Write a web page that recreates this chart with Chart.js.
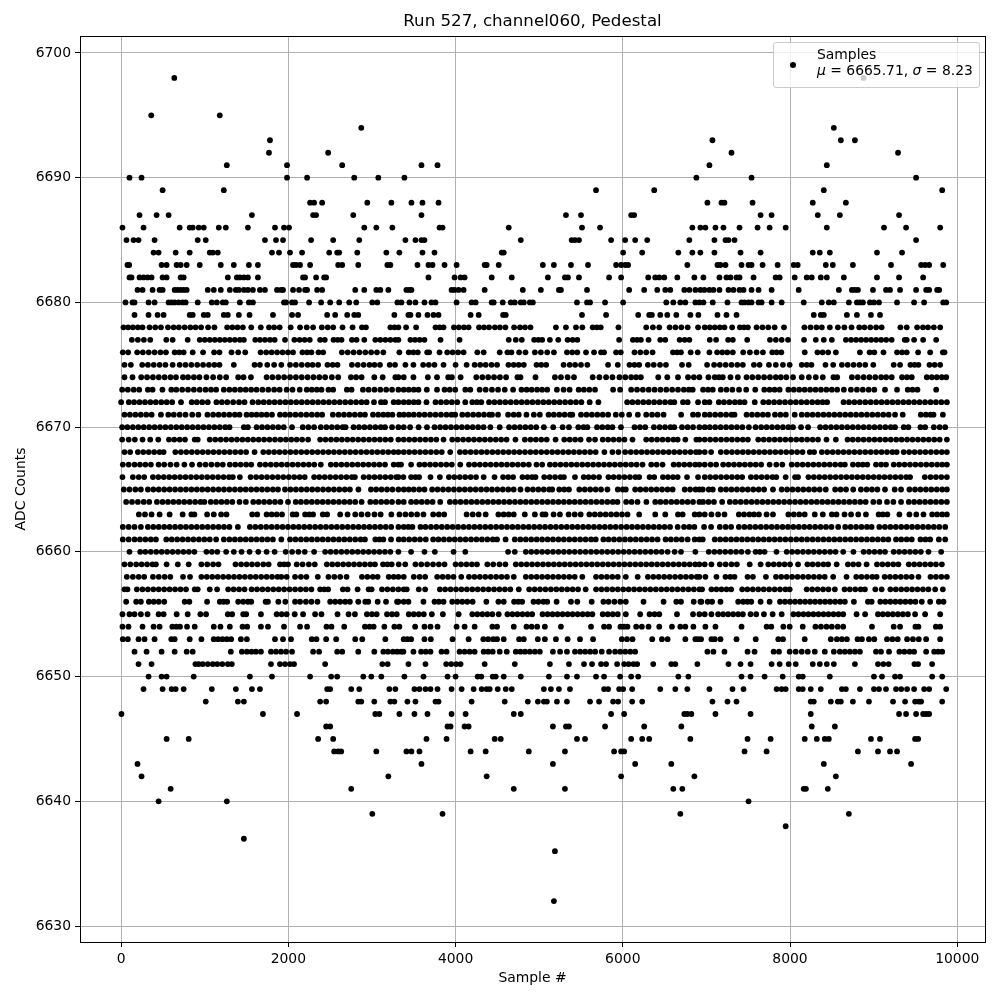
<!DOCTYPE html>
<html>
<head>
<meta charset="utf-8">
<title>Run 527, channel060, Pedestal</title>
<script src="https://cdn.jsdelivr.net/npm/chart.js@4"></script>
<style>
  body { margin: 0; background: #fff; font-family: "DejaVu Sans", sans-serif; }
  #wrap { position: relative; width: 1000px; height: 1000px; }
  #legendBox {
    position: absolute; left: 773px; top: 42px; width: 205px; height: 44px;
    background: rgba(255, 255, 255, 0.8); border: 1px solid #ccc; border-radius: 3px;
    font-size: 13.9px; line-height: 15.5px; color: #000;
  }
  #legendDot { position: absolute; left: 16px; top: 19px; width: 6px; height: 6px; border-radius: 50%; background: #000; }
  #legendText { position: absolute; left: 43px; top: 4px; white-space: nowrap; }
</style>
</head>
<body>
<div id="wrap">
  <canvas id="pedestalChart" width="1000" height="1000"></canvas>
  <div id="legendBox">
    <span id="legendDot"></span>
    <div id="legendText">Samples<br><i>μ</i> = 6665.71, <i>σ</i> = 8.23</div>
  </div>
</div>
<script>
'use strict';

const chartTitle = 'Run 527, channel060, Pedestal';
const xLabel = 'Sample #';
const yLabel = 'ADC Counts';
const xTicks = [0, 2000, 4000, 6000, 8000, 10000];
const yTicks = [6630, 6640, 6650, 6660, 6670, 6680, 6690, 6700];

// sample numbers, one list per ADC code
const s6698 = [636, 8880];
const s6695 = [360, 1180];
const s6694 = [2872, 8524];
const s6693 = [1780, 7072, 8608, 8776];
const s6692 = [1768, 2476, 7300, 9292];
const s6691 = [1264, 1984, 2644, 3592, 3784, 7036, 8440];
const s6690 = [100, 244, 1984, 2224, 2788, 3076, 3388, 6880, 7540, 9508];
const s6689 = [496, 1228, 5680, 6376, 8404, 9820];
const s6688 = [2260, 2308, 2404, 2944, 3232, 3472, 3604, 3796, 7012, 7180, 7216, 7552, 8272, 8668];
const s6687 = [220, 424, 568, 1564, 2296, 2332, 2776, 3592, 5320, 5500, 6100, 6136, 7648, 7780, 8332, 8596, 9304];
const s6686 = [16, 268, 700, 820, 856, 928, 988, 1168, 1252, 1516, 1840, 1948, 2008, 2908, 3052, 3244, 3808, 3844, 4636, 5512, 5728, 6832, 6928, 6988, 7108, 7204, 7396, 7612, 7756, 7948, 8440, 9124, 9388, 9796];
const s6685 = [64, 148, 208, 400, 916, 1012, 1720, 1852, 1936, 2272, 2536, 2848, 3400, 3520, 3592, 3628, 4780, 5388, 5428, 5476, 5860, 6028, 6148, 6292, 6796, 7096, 7228, 7264, 7336, 9508];
const s6684 = [388, 448, 652, 820, 1060, 1096, 1156, 1804, 1888, 2020, 2164, 2488, 2584, 2608, 2824, 3172, 3328, 3604, 3748, 4552, 4576, 6004, 6232, 6664, 6832, 6928, 7096, 7408, 7648, 8272, 8356, 8476, 9040, 9340];
const s6683 = [76, 96, 484, 544, 664, 712, 784, 940, 1192, 1348, 1528, 1636, 2056, 2092, 2140, 2260, 2596, 2644, 2836, 3184, 3220, 3544, 3676, 3724, 3868, 4012, 4348, 4372, 4516, 5044, 5176, 5380, 5584, 5920, 5980, 6028, 6064, 6772, 7132, 7168, 7228, 7420, 7504, 7540, 7672, 7852, 8044, 8092, 8428, 8512, 8752, 9208, 9568, 9616, 9664, 9832];
const s6682 = [100, 124, 220, 268, 316, 364, 496, 544, 712, 748, 1276, 1384, 1420, 1468, 1516, 1636, 2176, 2200, 2332, 2428, 2452, 3676, 3988, 4060, 4108, 4432, 4672, 5104, 5308, 5344, 5476, 5836, 5980, 6304, 6388, 6436, 6496, 6652, 6856, 6964, 7156, 7240, 7288, 7360, 7396, 7564, 7828, 7876, 8056, 8200, 8260, 8368, 8440, 8644, 9040, 9304, 9592];
const s6681 = [196, 256, 376, 460, 496, 640, 676, 712, 748, 784, 1036, 1108, 1192, 1300, 1372, 1408, 1468, 1516, 1576, 1660, 1720, 1864, 1912, 1936, 2056, 2128, 2200, 2224, 2344, 2404, 2800, 2908, 3052, 3100, 3196, 3412, 3448, 3472, 3952, 3988, 4036, 4096, 4348, 4804, 5020, 5236, 5260, 5572, 6076, 6256, 6412, 6508, 6568, 6736, 6796, 6868, 6928, 6976, 7036, 7084, 7156, 7264, 7324, 7396, 7444, 7540, 7624, 7780, 8104, 8584, 8740, 8776, 8812, 8992, 9148, 9196, 9316, 9508, 9628, 9664, 9760, 9784];
const s6680 = [52, 136, 160, 328, 400, 568, 604, 640, 688, 736, 772, 916, 1084, 1144, 1216, 1252, 1420, 1528, 1576, 1948, 1972, 2044, 2080, 2248, 2392, 2500, 2608, 2728, 2812, 3004, 3064, 3304, 3352, 3448, 3520, 3628, 3712, 3760, 4012, 4192, 4240, 4432, 4456, 4564, 4660, 4708, 4780, 4816, 4888, 4924, 5452, 5572, 5608, 5788, 6004, 6520, 6604, 6688, 6748, 6868, 6916, 6964, 7076, 7252, 7420, 7456, 7504, 7540, 7624, 7660, 7780, 7900, 8164, 8380, 8464, 8524, 8704, 8800, 8836, 8872, 8956, 9004, 9064, 9280, 9484, 9604, 9832, 9868];
const s6679 = [160, 328, 436, 508, 820, 856, 988, 1036, 1228, 1276, 1408, 1536, 1816, 2044, 2116, 2464, 2560, 2704, 2788, 2836, 3268, 3436, 3460, 3556, 3664, 3736, 3796, 4180, 4276, 4568, 4600, 5512, 5800, 6184, 6316, 6348, 6448, 6532, 6640, 6808, 6904, 7132, 7240, 7360, 8284, 8368, 8404, 8680, 8800, 8968, 9076];
const s6678 = [28, 84, 140, 200, 256, 340, 408, 476, 560, 628, 690, 760, 828, 890, 956, 1040, 1116, 1268, 1330, 1392, 1456, 1556, 1670, 1768, 1830, 1896, 2028, 2140, 2220, 2296, 2400, 2470, 2536, 2648, 2768, 2880, 2928, 3220, 3270, 3316, 3408, 3528, 3760, 3810, 3856, 3980, 4040, 4100, 4156, 4280, 4340, 4400, 4470, 4530, 4596, 4700, 4770, 4830, 4896, 5200, 5320, 5440, 5516, 5640, 5690, 5736, 5948, 6280, 6360, 6436, 6560, 6630, 6700, 6776, 6900, 6980, 7040, 7100, 7160, 7216, 7308, 7400, 7450, 7496, 7600, 7670, 7740, 7816, 7928, 8172, 8245, 8316, 8380, 8476, 8572, 8650, 8736, 8828, 8890, 8960, 9030, 9096, 9320, 9396, 9520, 9590, 9650, 9720, 9796];
const s6677 = [128, 200, 272, 348, 540, 616, 796, 940, 1000, 1060, 1120, 1180, 1240, 1300, 1360, 1420, 1468, 1604, 1660, 1720, 1780, 1836, 1960, 2072, 2135, 2195, 2256, 2380, 2436, 2540, 2590, 2636, 2760, 2816, 2908, 3040, 3100, 3160, 3220, 3280, 3316, 3460, 3515, 3570, 3628, 3820, 4048, 4636, 4720, 4792, 4940, 4990, 5036, 5128, 5228, 5340, 5400, 5456, 5956, 6120, 6170, 6216, 6308, 6448, 6508, 6680, 6740, 6796, 7040, 7116, 7260, 7316, 7488, 7760, 7830, 7900, 7976, 8168, 8308, 8404, 8500, 8668, 8730, 8790, 8850, 8910, 8970, 9030, 9090, 9150, 9216, 9372, 9396, 9484, 9592, 9748];
const s6676 = [20, 84, 192, 260, 330, 400, 470, 536, 640, 695, 748, 856, 980, 1112, 1176, 1320, 1400, 1484, 1668, 1735, 1800, 1865, 1930, 1995, 2056, 2168, 2225, 2276, 2360, 2416, 2640, 2710, 2780, 2850, 2920, 2990, 3060, 3136, 3328, 3440, 3495, 3548, 3660, 3684, 3808, 3900, 3965, 4030, 4096, 4260, 4336, 4528, 4620, 4668, 4760, 4836, 4948, 5020, 5096, 5176, 5332, 5395, 5456, 5560, 5656, 5740, 5776, 5920, 5976, 6140, 6210, 6280, 6356, 6600, 6650, 6696, 6812, 6896, 7036, 7128, 7190, 7250, 7316, 7440, 7520, 7600, 7676, 7788, 7840, 7896, 8176, 8328, 8390, 8456, 8548, 8836, 8952, 9008, 9118, 9280, 9340, 9396, 9532, 9676, 9828, 9848];
const s6675 = [40, 116, 252, 320, 390, 460, 530, 616, 700, 770, 840, 910, 980, 1050, 1115, 1176, 1348, 1596, 1660, 1748, 1830, 1916, 2020, 2090, 2160, 2230, 2290, 2356, 2468, 2530, 2588, 2760, 2830, 2900, 2970, 3030, 3096, 3212, 3276, 3400, 3496, 3612, 3680, 3748, 3856, 4000, 4132, 4228, 4295, 4360, 4430, 4496, 4632, 4695, 4755, 4816, 4968, 5025, 5084, 5292, 5365, 5430, 5500, 5576, 5824, 5940, 6080, 6140, 6196, 6300, 6370, 6445, 6516, 6708, 6788, 7008, 7092, 7160, 7230, 7300, 7370, 7436, 7568, 7636, 7748, 7830, 7915, 7996, 8140, 8200, 8256, 8424, 8516, 8620, 8690, 8760, 8830, 8900, 8996, 9240, 9316, 9440, 9490, 9536, 9668, 9730, 9796];
const s6674 = [40, 136, 240, 310, 380, 450, 520, 590, 656, 740, 800, 870, 936, 1020, 1100, 1180, 1256, 1400, 1464, 1552, 1740, 1810, 1880, 1950, 2020, 2090, 2160, 2230, 2300, 2370, 2440, 2520, 2596, 2748, 2810, 2876, 3028, 3128, 3280, 3316, 3380, 3496, 3668, 3778, 3912, 3956, 4060, 4248, 4320, 4390, 4460, 4530, 4604, 4740, 4776, 4956, 5188, 5260, 5340, 5416, 5640, 5720, 5800, 5876, 5960, 6030, 6100, 6160, 6216, 6424, 6532, 6660, 6780, 6850, 6916, 7024, 7100, 7150, 7196, 7288, 7376, 7480, 7550, 7620, 7690, 7760, 7830, 7890, 7956, 8036, 8140, 8225, 8308, 8392, 8520, 8564, 8740, 8810, 8880, 8950, 9020, 9090, 9150, 9216, 9340, 9400, 9456, 9636, 9695, 9755, 9815, 9868];
const s6673 = [12, 80, 150, 216, 320, 376, 494, 600, 660, 730, 800, 870, 940, 1010, 1075, 1136, 1228, 1295, 1360, 1425, 1490, 1555, 1620, 1690, 1760, 1830, 1896, 1980, 2050, 2136, 2220, 2280, 2340, 2396, 2480, 2536, 2700, 2756, 2892, 2960, 3030, 3100, 3170, 3240, 3316, 3380, 3440, 3500, 3556, 3656, 3778, 3868, 3930, 3996, 4116, 4176, 4288, 4360, 4435, 4508, 4588, 4688, 4788, 4850, 4910, 4975, 5035, 5096, 5212, 5292, 5364, 5472, 5535, 5600, 5668, 5884, 5968, 6100, 6170, 6240, 6310, 6380, 6450, 6520, 6590, 6660, 6730, 6790, 6836, 6960, 7020, 7076, 7172, 7240, 7310, 7390, 7476, 7584, 7692, 7755, 7815, 7876, 7980, 8045, 8110, 8175, 8240, 8305, 8370, 8435, 8500, 8564, 8644, 8728, 8800, 8870, 8940, 9008, 9136, 9280, 9408, 9465, 9524, 9748];
const s6672 = [0, 92, 155, 220, 285, 350, 415, 480, 545, 610, 716, 844, 905, 970, 1036, 1140, 1205, 1270, 1340, 1410, 1476, 1572, 1640, 1705, 1770, 1835, 1900, 1965, 2030, 2095, 2160, 2225, 2290, 2355, 2420, 2485, 2550, 2615, 2680, 2745, 2810, 2875, 2936, 3024, 3108, 3156, 3260, 3316, 3380, 3440, 3500, 3556, 3652, 3760, 3825, 3890, 3955, 4020, 4116, 4200, 4255, 4308, 4400, 4465, 4530, 4595, 4660, 4725, 4790, 4855, 4920, 4985, 5050, 5115, 5180, 5245, 5310, 5375, 5440, 5505, 5604, 5708, 6052, 6115, 6180, 6245, 6310, 6375, 6440, 6505, 6570, 6616, 6720, 6776, 6900, 6980, 7036, 7148, 7210, 7275, 7340, 7400, 7456, 7578, 7680, 7745, 7810, 7875, 7940, 8005, 8070, 8135, 8200, 8265, 8330, 8390, 8444, 8640, 8705, 8770, 8835, 8900, 8965, 9030, 9095, 9160, 9225, 9290, 9355, 9420, 9485, 9550, 9615, 9680, 9745, 9810, 9876];
const s6671 = [40, 105, 170, 235, 300, 365, 476, 564, 630, 700, 770, 850, 924, 1032, 1100, 1165, 1230, 1295, 1360, 1416, 1500, 1560, 1620, 1680, 1740, 1804, 1900, 1960, 2020, 2085, 2150, 2215, 2280, 2345, 2404, 2532, 2600, 2665, 2730, 2795, 2860, 2916, 3012, 3075, 3135, 3190, 3244, 3328, 3380, 3440, 3500, 3565, 3630, 3695, 3760, 3825, 3890, 3950, 3996, 4080, 4145, 4210, 4275, 4340, 4405, 4436, 4508, 4628, 4695, 4756, 4848, 4936, 5008, 5112, 5175, 5240, 5305, 5370, 5396, 5500, 5565, 5630, 5695, 5760, 5825, 5916, 5988, 6076, 6180, 6280, 6350, 6416, 6488, 6698, 6840, 6900, 6980, 7040, 7105, 7170, 7235, 7300, 7336, 7480, 7545, 7610, 7675, 7736, 7820, 7885, 7950, 8056, 8140, 8205, 8270, 8335, 8400, 8465, 8530, 8595, 8660, 8725, 8790, 8855, 8920, 8985, 9050, 9115, 9180, 9256, 9348, 9564, 9625, 9680, 9716, 9828];
const s6670 = [12, 75, 140, 205, 270, 335, 400, 465, 530, 595, 660, 725, 790, 855, 920, 985, 1050, 1115, 1180, 1245, 1296, 1468, 1516, 1620, 1685, 1750, 1815, 1880, 1945, 2044, 2172, 2240, 2308, 2388, 2455, 2520, 2585, 2650, 2684, 2780, 2845, 2910, 2975, 3040, 3105, 3156, 3240, 3316, 3380, 3456, 3558, 3658, 3748, 3815, 3880, 3945, 4010, 4075, 4140, 4205, 4270, 4335, 4416, 4528, 4640, 4705, 4770, 4835, 4900, 4965, 5056, 5168, 5280, 5356, 5468, 5530, 5576, 5692, 5755, 5820, 5876, 5978, 6140, 6205, 6268, 6372, 6440, 6505, 6570, 6616, 6708, 6775, 6840, 6916, 6980, 7040, 7105, 7170, 7235, 7300, 7365, 7430, 7508, 7588, 7655, 7720, 7785, 7850, 7915, 7980, 8036, 8132, 8216, 8360, 8425, 8490, 8555, 8620, 8685, 8750, 8815, 8880, 8945, 9010, 9075, 9140, 9205, 9256, 9360, 9416, 9560, 9616, 9720, 9790, 9856];
const s6669 = [12, 90, 164, 256, 348, 444, 572, 635, 700, 764, 880, 916, 1060, 1125, 1190, 1255, 1320, 1385, 1450, 1515, 1580, 1645, 1710, 1775, 1840, 1905, 1970, 2035, 2100, 2165, 2236, 2380, 2445, 2510, 2575, 2640, 2705, 2770, 2835, 2900, 2965, 3030, 3095, 3160, 3225, 3316, 3380, 3445, 3510, 3575, 3640, 3705, 3770, 3856, 3960, 4025, 4090, 4155, 4220, 4285, 4350, 4415, 4480, 4545, 4610, 4716, 4828, 4895, 4960, 5025, 5090, 5196, 5300, 5365, 5430, 5495, 5596, 5668, 5760, 5825, 5890, 5955, 6020, 6116, 6280, 6345, 6410, 6475, 6540, 6605, 6656, 6748, 6880, 6916, 6980, 7045, 7110, 7175, 7240, 7305, 7370, 7435, 7496, 7620, 7685, 7750, 7815, 7880, 7945, 8010, 8075, 8140, 8205, 8270, 8335, 8436, 8548, 8688, 8750, 8815, 8880, 8945, 9010, 9075, 9140, 9205, 9270, 9335, 9400, 9465, 9530, 9595, 9660, 9725, 9790, 9876];
const s6668 = [40, 108, 200, 265, 330, 395, 460, 508, 648, 715, 780, 845, 910, 975, 1040, 1105, 1170, 1235, 1300, 1365, 1430, 1495, 1596, 1700, 1765, 1830, 1895, 1960, 2025, 2090, 2155, 2220, 2285, 2350, 2415, 2480, 2545, 2610, 2675, 2740, 2805, 2870, 2935, 3000, 3065, 3130, 3195, 3260, 3316, 3380, 3445, 3510, 3575, 3640, 3705, 3770, 3835, 3936, 4052, 4115, 4180, 4245, 4310, 4375, 4440, 4505, 4570, 4635, 4700, 4765, 4830, 4895, 4960, 5025, 5090, 5155, 5220, 5285, 5350, 5415, 5480, 5545, 5610, 5676, 5780, 5876, 5948, 6028, 6095, 6160, 6225, 6290, 6355, 6420, 6485, 6550, 6615, 6680, 6745, 6810, 6875, 6916, 6980, 7056, 7172, 7240, 7305, 7370, 7435, 7500, 7565, 7630, 7695, 7760, 7825, 7890, 7955, 8020, 8085, 8150, 8236, 8288, 8380, 8445, 8510, 8575, 8640, 8705, 8770, 8835, 8900, 8965, 9030, 9095, 9160, 9225, 9276, 9360, 9425, 9490, 9555, 9620, 9685, 9750, 9815, 9876];
const s6667 = [20, 90, 160, 225, 290, 356, 448, 515, 590, 664, 756, 848, 940, 1010, 1080, 1150, 1216, 1300, 1365, 1430, 1495, 1556, 1660, 1725, 1790, 1855, 1920, 1985, 2050, 2115, 2180, 2245, 2310, 2388, 2508, 2570, 2635, 2700, 2765, 2830, 2895, 2960, 3025, 3090, 3156, 3260, 3316, 3348, 3468, 3568, 3630, 3695, 3760, 3825, 3890, 3955, 4056, 4160, 4225, 4290, 4355, 4420, 4485, 4550, 4615, 4680, 4745, 4810, 4876, 4968, 5036, 5128, 5190, 5255, 5320, 5385, 5450, 5515, 5580, 5645, 5710, 5775, 5840, 5905, 5970, 6035, 6100, 6165, 6236, 6340, 6405, 6476, 6608, 6670, 6735, 6800, 6865, 6916, 6980, 7050, 7116, 7200, 7265, 7330, 7395, 7460, 7525, 7590, 7655, 7756, 7836, 7908, 8020, 8085, 8150, 8215, 8280, 8345, 8410, 8475, 8540, 8605, 8656, 8752, 8815, 8870, 8924, 9028, 9090, 9148, 9240, 9305, 9370, 9435, 9500, 9565, 9630, 9695, 9760, 9820, 9876];
const s6666 = [16, 140, 210, 276, 380, 445, 510, 575, 640, 705, 770, 835, 900, 965, 1030, 1095, 1160, 1225, 1290, 1336, 1420, 1548, 1615, 1680, 1745, 1810, 1875, 1940, 2005, 2070, 2135, 2196, 2308, 2370, 2435, 2500, 2565, 2630, 2695, 2760, 2796, 2900, 2965, 3030, 3095, 3160, 3225, 3290, 3316, 3376, 3468, 3520, 3564, 3700, 3812, 3920, 3985, 4050, 4115, 4180, 4245, 4336, 4466, 4568, 4630, 4688, 4800, 4860, 4915, 4956, 5060, 5125, 5190, 5255, 5296, 5428, 5532, 5590, 5650, 5716, 5828, 5890, 5955, 6020, 6085, 6150, 6196, 6320, 6376, 6480, 6540, 6600, 6656, 6768, 6900, 6980, 7045, 7110, 7175, 7240, 7305, 7370, 7428, 7532, 7595, 7660, 7725, 7790, 7836, 7948, 8060, 8096, 8220, 8285, 8350, 8415, 8480, 8545, 8610, 8675, 8740, 8805, 8870, 8935, 9000, 9065, 9130, 9195, 9260, 9325, 9390, 9436, 9612, 9680, 9745, 9810, 9876];
const s6665 = [32, 100, 170, 236, 320, 385, 450, 515, 580, 645, 710, 775, 840, 905, 970, 1035, 1100, 1165, 1230, 1295, 1360, 1425, 1490, 1555, 1620, 1685, 1750, 1815, 1876, 1960, 2025, 2090, 2155, 2220, 2285, 2350, 2415, 2480, 2545, 2610, 2675, 2736, 2838, 2988, 3050, 3115, 3180, 3245, 3316, 3380, 3440, 3500, 3565, 3628, 3720, 3785, 3850, 3915, 3980, 4045, 4110, 4175, 4240, 4305, 4370, 4435, 4500, 4565, 4630, 4695, 4776, 4860, 4925, 4990, 5055, 5120, 5156, 5240, 5300, 5356, 5480, 5545, 5610, 5675, 5740, 5816, 5940, 6000, 6036, 6148, 6210, 6275, 6340, 6405, 6470, 6535, 6596, 6740, 6805, 6870, 6916, 6956, 7028, 7076, 7172, 7235, 7300, 7365, 7430, 7495, 7560, 7625, 7690, 7796, 7900, 7965, 8030, 8095, 8160, 8225, 8290, 8355, 8428, 8540, 8605, 8670, 8756, 8848, 8915, 8980, 9045, 9136, 9252, 9328, 9428, 9495, 9560, 9625, 9690, 9755, 9820, 9876];
const s6664 = [60, 130, 200, 270, 336, 428, 495, 560, 625, 690, 755, 820, 885, 950, 996, 1072, 1135, 1200, 1265, 1330, 1416, 1492, 1580, 1645, 1710, 1775, 1840, 1905, 1996, 2088, 2150, 2215, 2280, 2345, 2410, 2475, 2540, 2605, 2670, 2735, 2800, 2876, 2980, 3045, 3110, 3175, 3240, 3316, 3380, 3468, 3530, 3595, 3660, 3725, 3816, 3932, 3995, 4060, 4125, 4190, 4255, 4320, 4385, 4450, 4515, 4580, 4645, 4710, 4775, 4840, 4905, 4970, 5035, 5100, 5165, 5230, 5295, 5360, 5425, 5490, 5555, 5620, 5685, 5750, 5815, 5880, 5936, 6040, 6105, 6176, 6282, 6388, 6450, 6515, 6580, 6645, 6710, 6775, 6840, 6916, 6960, 7025, 7090, 7188, 7280, 7345, 7410, 7475, 7540, 7605, 7670, 7735, 7800, 7865, 7930, 7995, 8060, 8125, 8190, 8255, 8320, 8385, 8450, 8515, 8580, 8645, 8710, 8775, 8840, 8905, 8996, 9068, 9160, 9236, 9328, 9420, 9485, 9550, 9615, 9680, 9745, 9810, 9876];
const s6663 = [212, 285, 364, 460, 580, 736, 840, 876, 1028, 1108, 1196, 1260, 1568, 1628, 1740, 1800, 1860, 1924, 2052, 2096, 2200, 2250, 2296, 2412, 2464, 2620, 2708, 2800, 2875, 2950, 3030, 3104, 3232, 3328, 3400, 3470, 3540, 3616, 3732, 3800, 3864, 4132, 4205, 4276, 4360, 4512, 4575, 4635, 4696, 4828, 4948, 5040, 5076, 5172, 5248, 5352, 5425, 5496, 5600, 5665, 5730, 5795, 5860, 5925, 5990, 6056, 6196, 6388, 6508, 6660, 6716, 6860, 6916, 6980, 7060, 7140, 7216, 7388, 7450, 7515, 7570, 7628, 7720, 7796, 7980, 8045, 8110, 8176, 8296, 8392, 8500, 8556, 8652, 8730, 8816, 8908, 9060, 9110, 9164, 9308, 9428, 9510, 9596, 9700, 9760, 9820, 9876];
const s6662 = [20, 90, 160, 236, 320, 385, 450, 515, 580, 645, 710, 775, 840, 905, 970, 1035, 1100, 1165, 1230, 1295, 1396, 1540, 1605, 1670, 1735, 1800, 1865, 1930, 1995, 2060, 2125, 2190, 2255, 2320, 2385, 2450, 2515, 2580, 2645, 2710, 2775, 2840, 2905, 2970, 3035, 3100, 3165, 3230, 3316, 3380, 3435, 3484, 3580, 3640, 3705, 3770, 3835, 3900, 3965, 4030, 4095, 4160, 4225, 4290, 4355, 4420, 4485, 4550, 4615, 4680, 4745, 4810, 4875, 4940, 5005, 5070, 5135, 5200, 5265, 5330, 5395, 5460, 5525, 5590, 5655, 5720, 5785, 5850, 5915, 5980, 6045, 6110, 6175, 6240, 6305, 6370, 6435, 6500, 6565, 6656, 6732, 6795, 6856, 6972, 7056, 7160, 7230, 7296, 7388, 7455, 7520, 7585, 7650, 7715, 7780, 7845, 7910, 7975, 8040, 8105, 8170, 8235, 8300, 8365, 8430, 8495, 8576, 8660, 8725, 8790, 8855, 8920, 8976, 9068, 9135, 9200, 9265, 9330, 9395, 9460, 9525, 9590, 9655, 9720, 9785, 9856];
const s6661 = [20, 90, 160, 225, 290, 355, 416, 540, 605, 670, 735, 800, 865, 930, 995, 1060, 1136, 1228, 1295, 1360, 1425, 1490, 1555, 1620, 1685, 1750, 1815, 1916, 2020, 2085, 2150, 2215, 2280, 2345, 2410, 2475, 2540, 2605, 2670, 2735, 2800, 2865, 2916, 3040, 3090, 3136, 3228, 3320, 3380, 3445, 3510, 3575, 3644, 3732, 3795, 3860, 3925, 3990, 4055, 4120, 4185, 4250, 4315, 4380, 4445, 4496, 4598, 4708, 4775, 4840, 4905, 4970, 5035, 5100, 5165, 5230, 5295, 5360, 5425, 5490, 5555, 5620, 5676, 5768, 5830, 5895, 5960, 6025, 6090, 6155, 6220, 6285, 6350, 6416, 6512, 6575, 6640, 6705, 6776, 6860, 6916, 6956, 7100, 7165, 7230, 7295, 7360, 7425, 7490, 7555, 7620, 7685, 7750, 7815, 7880, 7945, 8010, 8075, 8140, 8205, 8270, 8335, 8400, 8465, 8530, 8595, 8660, 8725, 8790, 8855, 8920, 8985, 9050, 9115, 9176, 9268, 9330, 9395, 9456, 9560, 9620, 9676, 9780, 9856];
const s6660 = [100, 228, 290, 355, 420, 485, 550, 615, 680, 745, 810, 876, 1020, 1085, 1150, 1256, 1348, 1440, 1536, 1640, 1740, 1836, 1968, 2045, 2120, 2196, 2308, 2440, 2505, 2570, 2635, 2700, 2765, 2830, 2895, 2960, 3025, 3090, 3155, 3220, 3316, 3468, 3628, 3752, 3976, 4116, 4628, 4708, 4840, 4905, 4970, 5035, 5100, 5165, 5230, 5295, 5360, 5425, 5490, 5555, 5620, 5685, 5750, 5815, 5880, 5945, 6010, 6075, 6140, 6205, 6270, 6335, 6400, 6465, 6536, 6620, 6696, 6868, 7028, 7095, 7160, 7225, 7290, 7355, 7420, 7496, 7588, 7640, 7696, 7838, 7960, 8025, 8090, 8155, 8220, 8285, 8350, 8415, 8480, 8545, 8636, 8758, 8880, 8945, 9010, 9075, 9136, 9240, 9305, 9370, 9435, 9500, 9565, 9656, 9808];
const s6659 = [40, 110, 180, 245, 310, 375, 416, 544, 678, 808, 960, 1030, 1100, 1164, 1368, 1435, 1500, 1565, 1630, 1700, 1764, 1900, 1950, 1996, 2100, 2170, 2245, 2316, 2460, 2525, 2590, 2655, 2720, 2785, 2850, 2915, 2980, 3036, 3132, 3185, 3236, 3320, 3398, 3520, 3590, 3660, 3730, 3800, 3868, 4000, 4065, 4130, 4195, 4256, 4380, 4450, 4525, 4596, 4720, 4785, 4850, 4915, 4980, 5045, 5110, 5175, 5240, 5305, 5370, 5435, 5500, 5565, 5630, 5695, 5760, 5825, 5890, 5955, 6020, 6085, 6150, 6215, 6280, 6345, 6410, 6475, 6540, 6605, 6670, 6735, 6800, 6865, 6916, 6980, 7060, 7160, 7230, 7300, 7364, 7518, 7648, 7740, 7805, 7870, 7935, 8000, 8096, 8208, 8270, 8335, 8400, 8456, 8558, 8692, 8755, 8820, 8916, 9040, 9105, 9170, 9235, 9296, 9420, 9485, 9550, 9615, 9680, 9745, 9816];
const s6658 = [68, 140, 210, 276, 380, 450, 520, 588, 740, 824, 960, 1025, 1090, 1155, 1220, 1285, 1350, 1415, 1480, 1545, 1610, 1675, 1740, 1805, 1870, 1916, 1980, 2080, 2150, 2216, 2352, 2480, 2550, 2620, 2696, 2880, 2945, 3010, 3068, 3200, 3260, 3316, 3380, 3500, 3570, 3636, 3780, 3845, 3910, 3975, 4068, 4160, 4225, 4290, 4355, 4420, 4485, 4550, 4615, 4696, 4840, 4905, 4970, 5035, 5100, 5165, 5230, 5295, 5360, 5425, 5516, 5680, 5745, 5810, 5875, 5940, 6036, 6178, 6300, 6365, 6430, 6495, 6560, 6625, 6690, 6755, 6820, 6885, 6916, 6988, 7120, 7228, 7285, 7336, 7492, 7556, 7712, 7832, 7895, 7960, 8025, 8090, 8155, 8220, 8285, 8350, 8415, 8516, 8676, 8792, 8855, 8920, 8985, 9036, 9132, 9195, 9260, 9325, 9390, 9455, 9536, 9680, 9745, 9810, 9876];
const s6657 = [40, 76, 188, 255, 320, 385, 450, 515, 580, 645, 710, 776, 880, 916, 1060, 1148, 1280, 1345, 1410, 1476, 1560, 1625, 1690, 1755, 1820, 1885, 1950, 2015, 2080, 2145, 2210, 2276, 2380, 2430, 2476, 2652, 2708, 2828, 2960, 2996, 3120, 3185, 3250, 3316, 3380, 3416, 3560, 3636, 3812, 3875, 3940, 4005, 4070, 4135, 4200, 4265, 4330, 4395, 4460, 4525, 4590, 4655, 4756, 4880, 4945, 5010, 5075, 5140, 5205, 5270, 5335, 5400, 5465, 5556, 5680, 5745, 5810, 5875, 5940, 6005, 6070, 6135, 6200, 6265, 6330, 6395, 6460, 6525, 6590, 6655, 6720, 6785, 6850, 6916, 6948, 7060, 7120, 7180, 7240, 7296, 7428, 7490, 7555, 7620, 7685, 7750, 7815, 7880, 7945, 7996, 8200, 8265, 8330, 8395, 8460, 8536, 8652, 8715, 8780, 8845, 8896, 9020, 9096, 9200, 9265, 9330, 9395, 9460, 9525, 9590, 9655, 9736, 9828];
const s6656 = [60, 180, 236, 332, 390, 450, 516, 760, 816, 1028, 1180, 1224, 1268, 1400, 1460, 1516, 1556, 1728, 1756, 1880, 1964, 2080, 2140, 2210, 2276, 2348, 2500, 2560, 2620, 2680, 2736, 2836, 2920, 2956, 3068, 3168, 3300, 3316, 3380, 3436, 3616, 3748, 3800, 3856, 3960, 4020, 4080, 4140, 4204, 4368, 4512, 4576, 4700, 4750, 4796, 4932, 4990, 5050, 5096, 5208, 5380, 5456, 5628, 5768, 5830, 5900, 5970, 6036, 6248, 6488, 6640, 6696, 6848, 6928, 6940, 7016, 7068, 7168, 7380, 7440, 7490, 7536, 7648, 7756, 7880, 7940, 8000, 8060, 8120, 8180, 8240, 8300, 8360, 8420, 8480, 8540, 8600, 8656, 8764, 8932, 8976, 9080, 9140, 9200, 9260, 9320, 9380, 9440, 9500, 9576, 9676, 9780, 9836];
const s6655 = [16, 100, 160, 236, 316, 448, 508, 664, 796, 948, 1016, 1276, 1328, 1460, 1496, 1672, 1860, 1920, 1980, 2076, 2176, 2320, 2396, 2588, 2720, 2796, 2940, 3000, 3056, 3180, 3240, 3296, 3440, 3500, 3560, 3620, 3716, 3848, 4036, 4200, 4260, 4320, 4380, 4440, 4516, 4620, 4680, 4740, 4800, 4860, 4916, 5040, 5100, 5160, 5220, 5280, 5340, 5400, 5460, 5520, 5580, 5636, 5760, 5820, 5880, 5940, 6036, 6208, 6320, 6380, 6436, 6648, 6840, 6916, 6980, 7060, 7140, 7200, 7260, 7320, 7380, 7436, 7528, 7596, 7688, 7792, 7900, 8040, 8100, 8160, 8220, 8280, 8340, 8400, 8460, 8520, 8580, 8636, 8796, 8898, 9052, 9110, 9170, 9230, 9290, 9350, 9410, 9496, 9616, 9796];
const s6654 = [16, 88, 256, 388, 460, 612, 660, 704, 788, 880, 1108, 1188, 1300, 1452, 1508, 1672, 1756, 1948, 2140, 2224, 2456, 2516, 2668, 2916, 2970, 3020, 3148, 3268, 3328, 3516, 3628, 3700, 3784, 4012, 4108, 4228, 4440, 4496, 4696, 4848, 4910, 4976, 5068, 5260, 5620, 5776, 5836, 5972, 6016, 6056, 6160, 6228, 6308, 6436, 6588, 6688, 6748, 6844, 6988, 7108, 7420, 7720, 7776, 7920, 7996, 8152, 8304, 8370, 8436, 8500, 8570, 8636, 8980, 9240, 9316, 9500, 9536, 9744, 9796];
const s6653 = [20, 80, 208, 280, 400, 600, 640, 820, 960, 1108, 1160, 1212, 1264, 1316, 1432, 1504, 1840, 1936, 2032, 2280, 2336, 2452, 2572, 2800, 2884, 3160, 3380, 3424, 3468, 3628, 3704, 3964, 4156, 4332, 4390, 4450, 4496, 4576, 4760, 4816, 4984, 5068, 5200, 5340, 5488, 5644, 5988, 6050, 6116, 6352, 6468, 6536, 6748, 6868, 6900, 6936, 7060, 7100, 7168, 7360, 7590, 7860, 7916, 8176, 8488, 8560, 8620, 8680, 8808, 8860, 8944, 9008, 9160, 9224, 9288, 9400, 9470, 9540, 9628, 9796];
const s6652 = [160, 304, 484, 640, 784, 856, 1312, 1444, 1504, 1560, 1612, 1672, 1792, 1852, 1912, 1972, 2044, 2296, 2368, 2584, 2644, 2836, 3028, 3136, 3190, 3250, 3300, 3348, 3376, 3496, 3588, 3644, 3700, 3832, 3892, 4048, 4108, 4168, 4228, 4336, 4390, 4444, 4528, 4612, 4720, 4776, 4830, 4888, 4948, 5008, 5164, 5250, 5332, 5428, 5490, 5550, 5610, 5670, 5748, 5836, 5908, 5970, 6030, 6090, 6148, 7012, 7084, 7216, 7492, 7576, 7804, 7868, 7996, 8068, 8140, 8212, 8296, 8416, 8524, 8596, 8656, 8716, 8776, 8836, 9028, 9088, 9184, 9308, 9368, 9430, 9484, 9628, 9724, 9772, 9820];
const s6651 = [208, 364, 888, 928, 976, 1036, 1096, 1150, 1210, 1276, 1324, 1792, 1900, 1960, 2020, 2068, 2440, 3124, 3188, 3436, 3640, 3888, 3948, 4008, 4060, 4348, 4708, 5128, 5356, 5536, 5632, 5740, 5800, 5932, 6016, 6070, 6128, 6172, 6364, 6580, 6628, 6892, 7264, 7408, 7528, 7780, 7876, 7984, 8068, 8272, 8356, 8440, 8524, 8776, 9052, 9116, 9180, 9488, 9532, 9700];
const s6650 = [328, 484, 544, 868, 1540, 1804, 2260, 2512, 2584, 2896, 2992, 3112, 3388, 3616, 3904, 4000, 4264, 4308, 4444, 4480, 4576, 4780, 5116, 5332, 5452, 5680, 5776, 5968, 6100, 6184, 6664, 6784, 7420, 7528, 7696, 7912, 8104, 8152, 8476, 9004, 9100, 9256, 9316, 9700, 9820];
const s6649 = [268, 496, 604, 652, 748, 1084, 1372, 1564, 1660, 2464, 2500, 2752, 2848, 3208, 3280, 3508, 3568, 3640, 3700, 3784, 3952, 4072, 4216, 4312, 4372, 4408, 4504, 4600, 4672, 5056, 5140, 5236, 5368, 5776, 5824, 5956, 6004, 6112, 6448, 6628, 6772, 7036, 7312, 7444, 7840, 7900, 7948, 8104, 8152, 8248, 8368, 8620, 8668, 8836, 9004, 9064, 9148, 9268, 9330, 9400, 9484, 9604, 9664, 9868];
const s6648 = [1012, 1396, 1468, 2380, 2452, 2836, 2872, 3028, 3220, 3268, 3424, 3520, 3760, 3796, 4192, 4588, 4864, 4984, 5056, 5092, 5212, 5332, 5608, 5716, 5884, 5944, 6112, 6232, 7072, 7252, 7360, 8248, 8284, 8488, 8572, 8608, 8752, 8944, 9232, 9376, 9496, 9540, 9568, 9820];
const s6647 = [4, 1696, 2104, 3040, 3088, 3328, 3508, 3664, 3952, 4120, 4696, 4780, 5860, 6016, 6736, 6772, 6820, 7108, 7528, 8248, 9304, 9388, 9508, 9592, 9628, 9664];
const s6646 = [2452, 2500, 3904, 3940, 4108, 4156, 5164, 5320, 5356, 5788, 6256, 6700, 8260, 8536];
const s6645 = [544, 808, 2356, 2536, 3652, 3892, 4468, 4540, 5452, 5548, 6100, 6232, 6316, 6808, 7492, 7768, 8176, 8320, 8416, 8464, 8968, 9076, 9496, 9532];
const s6644 = [2548, 2596, 2632, 3052, 3412, 3472, 3568, 4180, 4360, 4876, 5308, 5896, 5980, 6016, 7456, 7720, 8812, 9052, 9196, 9280];
const s6643 = [196, 3592, 5164, 6148, 6580, 8404, 9448];
const s6642 = [244, 3196, 4372, 5980, 6856, 8548];
const s6641 = [592, 2752, 4696, 5308, 6604, 6712, 8164, 8190, 8452];
const s6640 = [448, 1264, 7504];
const s6639 = [3004, 3844, 6688, 8704];
const s6638 = [7948];
const s6637 = [1468];
const s6636 = [5188];
const s6632 = [5176];

const rows = [
  [6698, s6698], [6695, s6695], [6694, s6694], [6693, s6693], [6692, s6692], [6691, s6691], [6690, s6690],
  [6689, s6689], [6688, s6688], [6687, s6687], [6686, s6686], [6685, s6685], [6684, s6684], [6683, s6683],
  [6682, s6682], [6681, s6681], [6680, s6680], [6679, s6679], [6678, s6678], [6677, s6677], [6676, s6676],
  [6675, s6675], [6674, s6674], [6673, s6673], [6672, s6672], [6671, s6671], [6670, s6670], [6669, s6669],
  [6668, s6668], [6667, s6667], [6666, s6666], [6665, s6665], [6664, s6664], [6663, s6663], [6662, s6662],
  [6661, s6661], [6660, s6660], [6659, s6659], [6658, s6658], [6657, s6657], [6656, s6656], [6655, s6655],
  [6654, s6654], [6653, s6653], [6652, s6652], [6651, s6651], [6650, s6650], [6649, s6649], [6648, s6648],
  [6647, s6647], [6646, s6646], [6645, s6645], [6644, s6644], [6643, s6643], [6642, s6642], [6641, s6641],
  [6640, s6640], [6639, s6639], [6638, s6638], [6637, s6637], [6636, s6636], [6632, s6632]
];

const samplePoints = [];
rows.forEach(function (row) {
  row[1].forEach(function (x) {
    samplePoints.push({ x: x, y: row[0] });
  });
});

// top and right spines, the axes only give us two
const frame = {
  id: 'frame',
  afterDraw: function (chart) {
    const a = chart.chartArea;
    const c = chart.ctx;
    c.save();
    c.strokeStyle = '#000';
    c.lineWidth = 1;
    c.strokeRect(a.left + 0.5, a.top + 0.5, a.right - a.left, a.bottom - a.top);
    c.restore();
  }
};

const font = { family: 'DejaVu Sans', size: 13.9 };

new Chart(document.getElementById('pedestalChart').getContext('2d'), {
  type: 'scatter',
  data: {
    datasets: [{
      label: 'Samples',
      data: samplePoints,
      backgroundColor: '#000',
      borderWidth: 0,
      pointRadius: 2.9
    }]
  },
  options: {
    responsive: false,
    animation: false,
    layout: { padding: { right: 15, left: 0, top: 0, bottom: 0 } },
    plugins: {
      legend: { display: false },
      tooltip: { enabled: false },
      title: {
        display: true,
        fullSize: false,
        text: chartTitle,
        color: '#000',
        font: { family: 'DejaVu Sans', size: 16.67, weight: 'normal', lineHeight: 1.2 },
        padding: { top: 12, bottom: 4 }
      }
    },
    scales: {
      x: {
        type: 'linear',
        min: -492,
        max: 10332,
        afterBuildTicks: function (s) { s.ticks = xTicks.map(function (v) { return { value: v }; }); },
        afterFit: function (s) { s.height = 58; },
        title: { display: true, text: xLabel, color: '#000', font: font, padding: { top: 5, bottom: 13 } },
        border: { color: '#000' },
        grid: { color: '#b0b0b0', lineWidth: 1, tickColor: '#000', tickLength: 5 },
        ticks: { color: '#000', font: font, maxRotation: 0, padding: 4, callback: function (v) { return String(v); } }
      },
      y: {
        type: 'linear',
        min: 6628.72,
        max: 6701.36,
        afterBuildTicks: function (s) { s.ticks = yTicks.map(function (v) { return { value: v }; }); },
        afterFit: function (s) { s.width = 80; },
        title: { display: true, text: yLabel, color: '#000', font: font, padding: { top: 13, bottom: 0 } },
        border: { color: '#000' },
        grid: { color: '#b0b0b0', lineWidth: 1, tickColor: '#000', tickLength: 5 },
        ticks: { color: '#000', font: font, padding: 4, callback: function (v) { return String(v); } }
      }
    }
  },
  plugins: [frame]
});
</script>
</body>
</html>
